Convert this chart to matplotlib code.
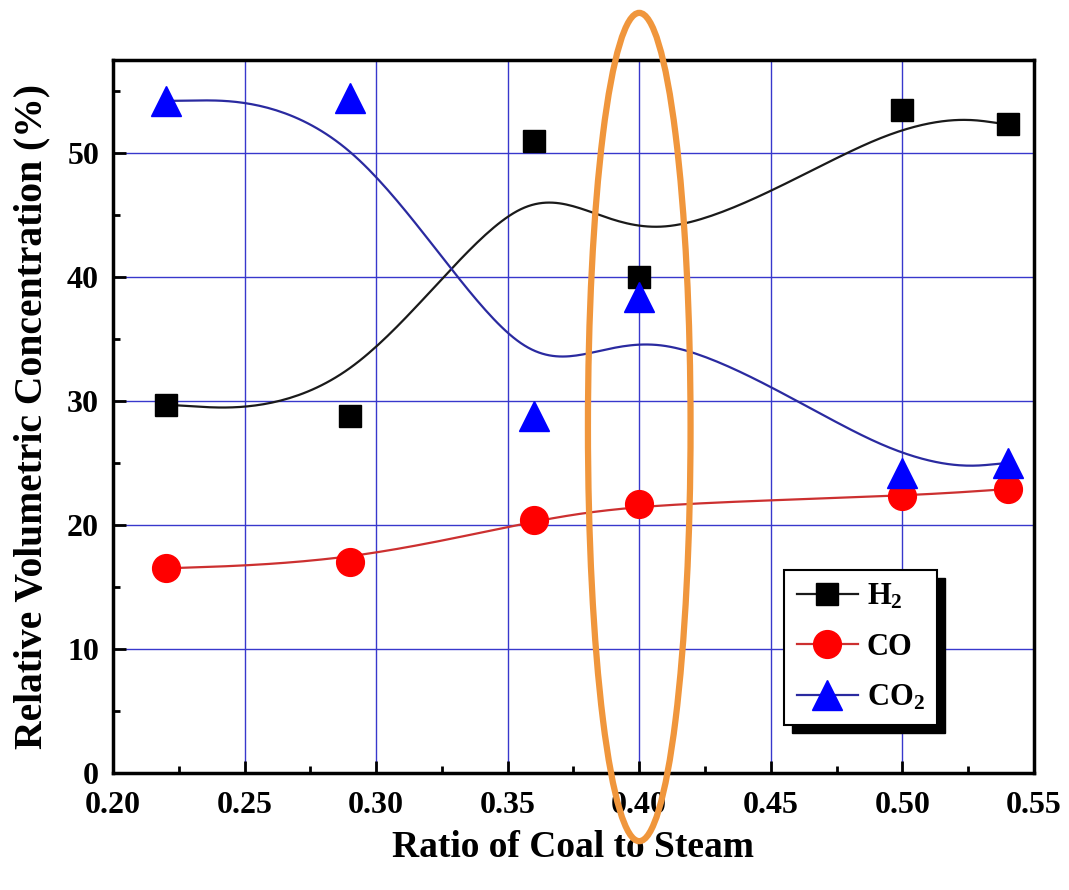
import numpy as np
import matplotlib.pyplot as plt
from matplotlib.patches import Ellipse, Rectangle

ratio = [0.22, 0.29, 0.36, 0.40, 0.50, 0.54]
h2 = [29.7, 28.8, 51.0, 40.0, 53.5, 52.3]
co = [16.5, 17.0, 20.4, 21.7, 22.3, 22.9]
co2 = [54.2, 54.4, 28.8, 38.4, 24.2, 25.0]


def bspline(px, py, n=40):
    # uniform cubic B-spline, data points as control points, end points tripled
    P = np.array([px, py], dtype=float).T
    P = np.vstack([P[0], P[0], P, P[-1], P[-1]])
    t = np.linspace(0, 1, n)
    b0 = (1 - t) ** 3 / 6
    b1 = (3 * t ** 3 - 6 * t ** 2 + 4) / 6
    b2 = (-3 * t ** 3 + 3 * t ** 2 + 3 * t + 1) / 6
    b3 = t ** 3 / 6
    segs = []
    for i in range(len(P) - 3):
        seg = (np.outer(b0, P[i]) + np.outer(b1, P[i + 1]) +
               np.outer(b2, P[i + 2]) + np.outer(b3, P[i + 3]))
        segs.append(seg)
    out = np.vstack(segs)
    return out[:, 0], out[:, 1]


plt.rcParams['font.family'] = 'Liberation Serif'
plt.rcParams['font.weight'] = 'bold'
plt.rcParams['mathtext.fontset'] = 'custom'
plt.rcParams['mathtext.rm'] = 'Liberation Serif:bold'
plt.rcParams['mathtext.default'] = 'rm'

fig = plt.figure(figsize=(10.69, 8.90), dpi=100)
ax = fig.add_axes([0.1057, 0.1315, 0.8615, 0.8011])

series = [(h2, 'k', '#1a1a1a', 's', 'H$_2$', 16.5),
          (co, 'red', '#cc3030', 'o', 'CO', 20),
          (co2, 'blue', '#2a2aa0', '^', 'CO$_2$', 21)]
for ys, c, lc, m, lab, ms in series:
    cx, cy = bspline(ratio, ys)
    ax.plot(cx, cy, color=lc, lw=1.6, zorder=3)
    ax.plot(ratio, ys, ls='none', marker=m, color=c, ms=ms, zorder=4)
    ax.plot([], [], color=lc, lw=1.6, marker=m, mfc=c, mec=c, ms=ms, label=lab)

ax.set_xlim(0.20, 0.55)
ax.set_ylim(0, 57.5)
xt = np.arange(0.20, 0.551, 0.05)
ax.set_xticks(xt)
ax.set_xticklabels(['%.2f' % v for v in xt])
ax.set_yticks(np.arange(0, 51, 10))
ax.set_xticks(np.arange(0.225, 0.55, 0.05), minor=True)
ax.set_yticks(np.arange(5, 57, 10), minor=True)
ax.grid(True, which='major', color='#3838cc', lw=1.0)
ax.set_axisbelow(True)

ax.tick_params(direction='in', which='major', length=9, width=2, labelsize=23, pad=10)
ax.tick_params(axis='x', which='major', pad=13)
ax.tick_params(direction='in', which='minor', length=5, width=2)
for sp in ax.spines.values():
    sp.set_linewidth(2.5)

ax.set_xlabel('Ratio of Coal to Steam', fontsize=27, fontweight='bold', labelpad=7)
ax.set_ylabel('Relative Volumetric Concentration (%)', fontsize=28.5, fontweight='bold', labelpad=12)

leg = ax.legend(loc='lower left', bbox_to_anchor=(0.729, 0.067), fontsize=22,
                frameon=True, fancybox=False, shadow=False, edgecolor='k',
                handlelength=2.0, borderpad=0.4, labelspacing=0.7,
                handletextpad=0.3, borderaxespad=0, framealpha=1)
leg.get_frame().set_linewidth(1.5)
leg.set_zorder(7)

ell = Ellipse((0.40, 27.9), width=0.039, height=66.8, fill=False,
              edgecolor='#f0963c', lw=4.5, clip_on=False, zorder=8)
ax.add_patch(ell)

# black drop shadow behind the legend box
fig.canvas.draw()
bb = leg.get_window_extent().transformed(fig.transFigure.inverted())
dx, dy = 8 / 1069, 8 / 890
ax.add_patch(Rectangle((bb.x0 + dx, bb.y0 - dy), bb.width, bb.height,
                       transform=fig.transFigure, color='k', zorder=6.5,
                       clip_on=False))

fig.savefig('out.png', dpi=100)
